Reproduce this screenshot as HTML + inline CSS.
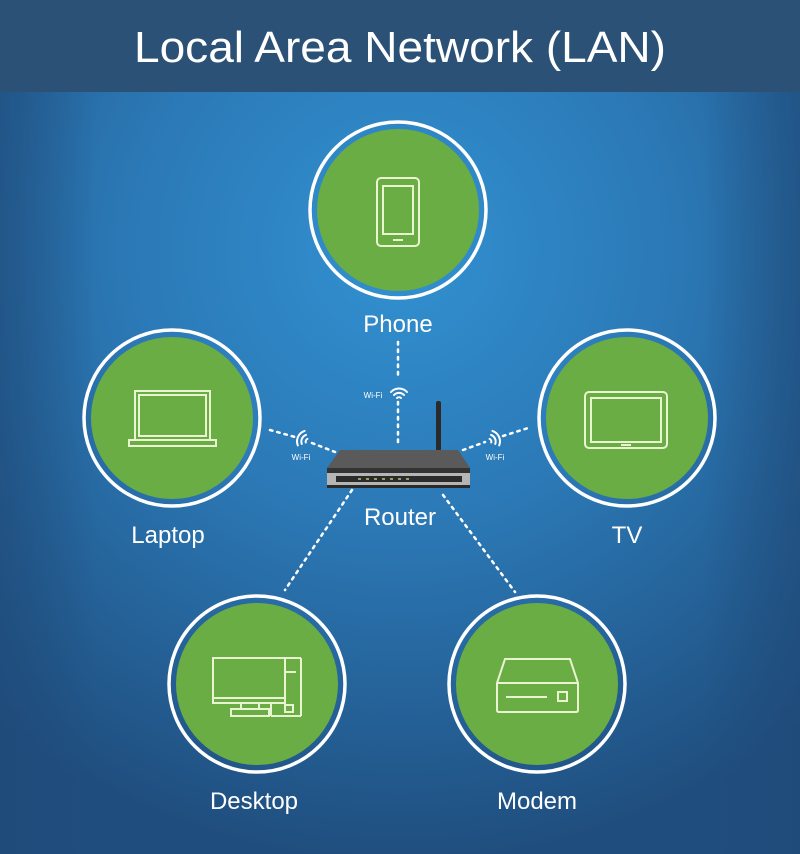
<!DOCTYPE html>
<html><head><meta charset="utf-8"><style>
html,body{margin:0;padding:0;width:800px;height:854px;overflow:hidden;background:#255a8c}
svg{display:block}
text{font-family:"Liberation Sans",sans-serif;fill:#fff}
</style></head><body>
<svg width="800" height="854" viewBox="0 0 800 854" xmlns="http://www.w3.org/2000/svg">
<defs>
<radialGradient id="bg" cx="400" cy="250" r="620" gradientUnits="userSpaceOnUse">
<stop offset="0" stop-color="#3291d1"/>
<stop offset="0.45" stop-color="#2b78b5"/>
<stop offset="1" stop-color="#1f4d7d"/>
</radialGradient>
<linearGradient id="side" x1="0" x2="1" y1="0" y2="0">
<stop offset="0" stop-color="#1f4a78" stop-opacity="0.6"/>
<stop offset="0.12" stop-color="#1f4a78" stop-opacity="0"/>
<stop offset="0.88" stop-color="#1f4a78" stop-opacity="0"/>
<stop offset="1" stop-color="#1f4a78" stop-opacity="0.6"/>
</linearGradient>
<g id="c">
<circle r="88" fill="none" stroke="#fff" stroke-width="3.5"/>
<circle r="81" fill="#6aad45"/>
</g>
<g id="wifi" fill="none" stroke="#fff" stroke-width="2" stroke-linecap="round">
<path d="M-8,-2 A11,11 0 0 1 8,-2"/><path d="M-5,1 A7,7 0 0 1 5,1"/><path d="M-2,4 A3,3 0 0 1 2,4"/>
</g>
</defs>
<rect width="800" height="854" fill="url(#bg)"/>
<rect width="800" height="854" fill="url(#side)"/>
<rect width="800" height="92" fill="#2b5177"/>
<text x="400" y="62" font-size="44" text-anchor="middle" textLength="532" lengthAdjust="spacingAndGlyphs">Local Area Network (LAN)</text>

<g stroke="#fff" stroke-width="2.5" stroke-dasharray="2.5 5" stroke-linecap="round" fill="none">
<line x1="398" y1="342" x2="398" y2="378"/>
<line x1="398" y1="402" x2="398" y2="442"/>
<line x1="270" y1="430" x2="295" y2="437"/>
<line x1="312" y1="443" x2="335" y2="452"/>
<line x1="463" y1="450" x2="485" y2="442"/>
<line x1="503" y1="436" x2="528" y2="428"/>
<line x1="352" y1="490" x2="285" y2="590"/>
<line x1="443" y1="495" x2="515" y2="592"/>
</g>

<use href="#c" x="398" y="210"/>
<use href="#c" x="172" y="418"/>
<use href="#c" x="627" y="418"/>
<use href="#c" x="257" y="684"/>
<use href="#c" x="537" y="684"/>

<g fill="none" stroke="#e8f5d0" stroke-width="2">
<!-- phone -->
<rect x="377" y="178" width="42" height="68" rx="4"/>
<rect x="383" y="186" width="30" height="48"/>
<line x1="393" y1="240" x2="403" y2="240"/>
<!-- laptop -->
<rect x="135" y="391" width="75" height="49"/>
<rect x="139" y="395" width="67" height="41"/>
<rect x="129" y="440" width="87" height="6"/>
<!-- tv -->
<rect x="585" y="392" width="82" height="56" rx="4"/>
<rect x="591" y="398" width="70" height="44"/>
<line x1="621" y1="445" x2="631" y2="445"/>
<!-- desktop -->
<rect x="213" y="658" width="72" height="45"/>
<line x1="213" y1="698" x2="285" y2="698"/>
<line x1="285" y1="658" x2="301" y2="658"/><line x1="301" y1="658" x2="301" y2="716"/>
<line x1="271" y1="716" x2="301" y2="716"/><line x1="271" y1="703" x2="271" y2="716"/>
<line x1="286" y1="672" x2="296" y2="672"/>
<rect x="285" y="705" width="8" height="7"/>
<rect x="231" y="709" width="38" height="7"/>
<line x1="241" y1="703" x2="241" y2="709"/><line x1="259" y1="703" x2="259" y2="709"/>
<!-- modem -->
<path d="M505,659 L570,659 L578,683 L578,710 Q578,712 576,712 L499,712 Q497,712 497,710 L497,683 Z"/>
<line x1="497" y1="683" x2="578" y2="683"/>
<line x1="506" y1="697" x2="547" y2="697"/>
<rect x="558" y="692" width="9" height="9"/>
</g>

<!-- wifi icons -->
<use href="#wifi" x="399" y="394"/>
<use href="#wifi" x="303" y="439" transform="rotate(-65 303 439)"/>
<use href="#wifi" x="494" y="439" transform="rotate(65 494 439)"/>
<text x="373" y="398" font-size="8" text-anchor="middle">Wi-Fi</text>
<text x="301" y="460" font-size="8" text-anchor="middle">Wi-Fi</text>
<text x="495" y="460" font-size="8" text-anchor="middle">Wi-Fi</text>

<!-- router -->
<rect x="436" y="401" width="5" height="50" rx="2" fill="#2a2a2a"/>
<path d="M340,450 L458,450 L470,468 L327,468 Z" fill="#5a5a5a"/>
<rect x="327" y="468" width="143" height="5" fill="#333"/>
<rect x="327" y="473" width="143" height="12" fill="#b5b5b5"/>
<rect x="336" y="476" width="126" height="6" fill="#2b2b2b"/>
<g fill="#9c9c6a"><rect x="358" y="478" width="3" height="2"/><rect x="366" y="478" width="3" height="2"/><rect x="374" y="478" width="3" height="2"/><rect x="382" y="478" width="3" height="2"/><rect x="390" y="478" width="3" height="2"/><rect x="398" y="478" width="3" height="2"/><rect x="406" y="478" width="3" height="2"/></g>
<rect x="327" y="485" width="143" height="3" fill="#2a2a2a"/>

<g font-size="24" text-anchor="middle">
<text x="398" y="332">Phone</text>
<text x="168" y="543">Laptop</text>
<text x="627" y="543">TV</text>
<text x="400" y="525">Router</text>
<text x="254" y="809">Desktop</text>
<text x="537" y="809">Modem</text>
</g>
</svg>
</body></html>
